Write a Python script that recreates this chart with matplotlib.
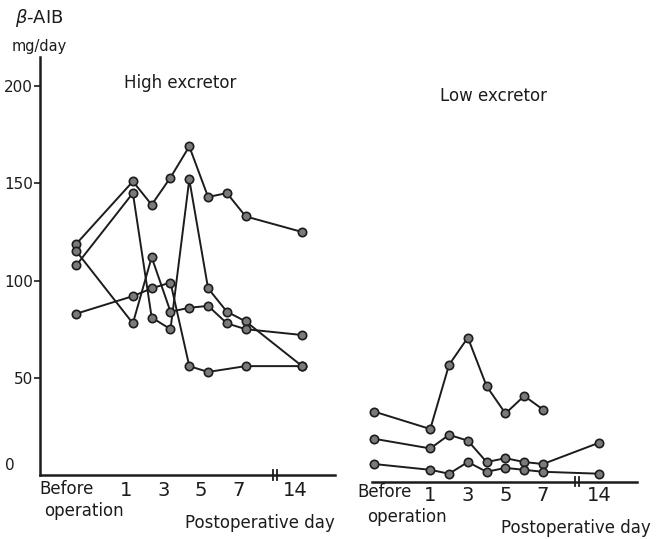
import numpy as np
import matplotlib.pyplot as plt

plt.rcParams['font.family'] = 'DejaVu Sans'

W, H = 671, 539

# x axis: days, 14 sits after the axis break
days = ['Before', 1, 2, 3, 4, 5, 6, 7, 14]
x_pos = [-2, 1, 2, 3, 4, 5, 6, 7, 10]
tick_days = [1, 3, 5, 7, 14]

# beta-AIB excretion, mg/day -- high excretors
high_1 = [119, 151, 139, 153, 169, 143, 145, 133, 125]
high_2 = [108, 145, 81, 75, 152, 96, 84, 79, 56]
high_3 = [115, 78, 112, 84, 86, 87, 78, 75, 72]
high_4 = [83, 92, 96, 99, 56, 53, np.nan, 56, 56]

# low excretors
low_1 = [36, 27, 60, 74, 49, 35, 44, 37, np.nan]
low_2 = [22, 17, 24, 21, 10, 12, 10, 9, 20]
low_3 = [9, 6, 4, 10, 5, 7, 6, 5, 4]

y_ticks = [50, 100, 150, 200]

ink = '#1c1c1c'
style = dict(color=ink, lw=1.4, marker='o', ms=6, mfc='#7a7a7a',
             mec=ink, mew=1.2, clip_on=False)


def px(x, y):
    # pixel position -> figure fraction
    return x / W, 1 - y / H


def draw(ax, series):
    xs = np.array(x_pos, dtype=float)
    for s in series:
        v = np.array(s, dtype=float)
        ok = ~np.isnan(v)
        ax.plot(xs[ok], v[ok], **style)


def axis_break(ax, x):
    for dx in (-0.12, 0.12):
        ax.plot([x + dx, x + dx], [-2.5, 2.5], color=ink, lw=1.3, clip_on=False)


fig = plt.figure(figsize=(W / 100, H / 100), dpi=100)

### High excretor ###
ax1 = fig.add_axes([40 / W, 64 / H, 295 / W, 418 / H])
draw(ax1, [high_1, high_2, high_3, high_4])
ax1.set_xlim(-3.94, 11.75)
ax1.set_ylim(0, 215)
ax1.set_yticks(y_ticks)
ax1.set_yticklabels([str(t) for t in y_ticks])
pos = dict(zip(days, x_pos))
ax1.set_xticks([pos[d] - 0.37 for d in tick_days])
ax1.set_xticklabels([str(d) for d in tick_days])
for s in ('top', 'right'):
    ax1.spines[s].set_visible(False)
for s in ('left', 'bottom'):
    ax1.spines[s].set_linewidth(1.8)
    ax1.spines[s].set_color(ink)
ax1.tick_params(axis='y', direction='out', length=4, width=1.2, pad=1,
                labelsize=11, colors=ink)
ax1.tick_params(axis='x', length=0, pad=4, labelsize=14, colors=ink)
axis_break(ax1, 8.56)

### Low excretor ###
ax2 = fig.add_axes([372 / W, 57.5 / H, 265 / W, 418 / H])
draw(ax2, [low_1, low_2, low_3])
ax2.set_xlim(-2.1, 12.0)
ax2.set_ylim(0, 215)
ax2.set_yticks([])
ax2.set_xticks([pos[d] for d in tick_days])
ax2.set_xticklabels([str(d) for d in tick_days])
for s in ('top', 'right', 'left'):
    ax2.spines[s].set_visible(False)
ax2.spines['bottom'].set_linewidth(1.8)
ax2.spines['bottom'].set_color(ink)
ax2.tick_params(axis='x', length=0, pad=3, labelsize=14, colors=ink)
ax2.patch.set_alpha(0)
axis_break(ax2, 8.8)

### Texts ###
fig.text(*px(39, 18), r'$\beta$-AIB', fontsize=13, ha='center', va='center', color=ink)
fig.text(*px(39, 46), 'mg/day', fontsize=10.5, ha='center', va='center', color=ink)
fig.text(*px(10, 465), '0', fontsize=11, ha='center', va='center', color=ink)
fig.text(*px(180, 83), 'High excretor', fontsize=12, ha='center', va='center', color=ink)
fig.text(*px(493, 96), 'Low excretor', fontsize=12, ha='center', va='center', color=ink)

fig.text(*px(67, 489), 'Before', fontsize=12, ha='center', va='center', color=ink)
fig.text(*px(84, 511), 'operation', fontsize=12, ha='center', va='center', color=ink)
fig.text(*px(260, 523), 'Postoperative day', fontsize=12, ha='center', va='center', color=ink)

fig.text(*px(385, 492), 'Before', fontsize=12, ha='center', va='center', color=ink)
fig.text(*px(407, 517), 'operation', fontsize=12, ha='center', va='center', color=ink)
fig.text(*px(576, 528), 'Postoperative day', fontsize=12, ha='center', va='center', color=ink)

fig.savefig('out.png', dpi=100)
